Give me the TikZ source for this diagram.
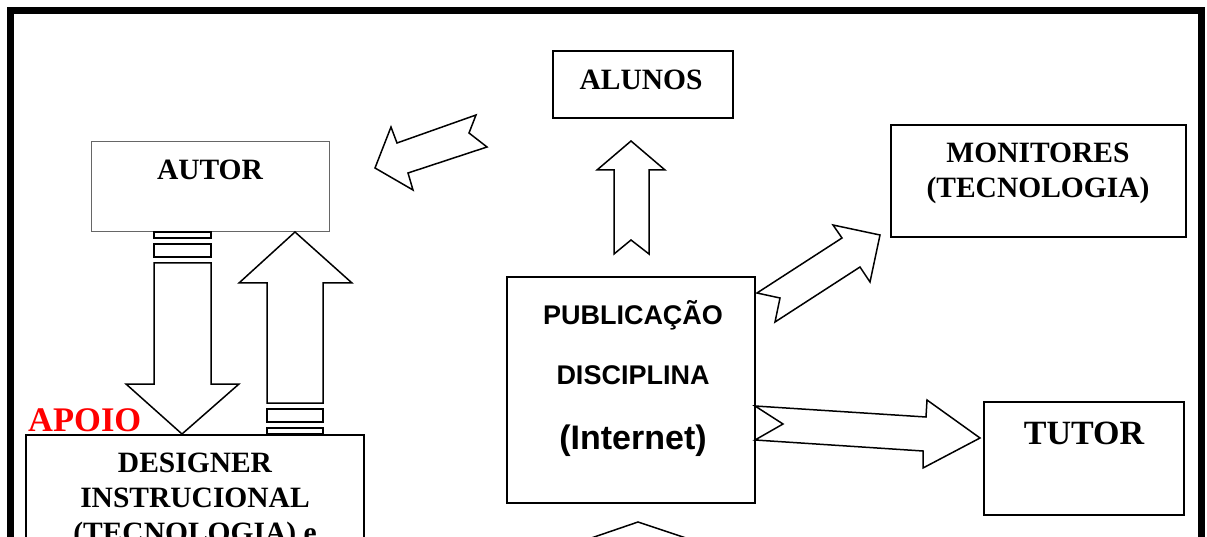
\documentclass[tikz,border=0pt]{standalone}
\usepackage{fontspec}
\setmainfont{Liberation Serif}
\newfontfamily\arialfont{Liberation Sans}
\begin{document}
\begin{tikzpicture}[x=1pt,y=-1pt,
  box/.style={draw, rectangle, line width=2pt, inner sep=0pt, outer sep=0pt},
  thinbox/.style={draw=black!60, rectangle, line width=1pt, inner sep=0pt, outer sep=0pt},
  blk/.style={draw, line width=1.5pt, fill=white, line join=miter, miter limit=20},
  lbl/.style={inner sep=0pt, anchor=base, font=\bfseries\fontsize{29.5}{35}\selectfont},
  lblbig/.style={inner sep=0pt, anchor=base, font=\bfseries\fontsize{34}{40}\selectfont},
  lblsans/.style={inner sep=0pt, anchor=base, font=\arialfont\bfseries\fontsize{27}{32}\selectfont},
  lblsansbig/.style={inner sep=0pt, anchor=base, font=\arialfont\bfseries\fontsize{34}{40}\selectfont}]
\useasboundingbox (0,0) rectangle (1207,537);
\clip (0,0) rectangle (1207,537);
\fill[white] (0,0) rectangle (1207,537);
% outer frame
\draw[line width=7pt] (10.5,10.5) rectangle (1201.5,620);

% boxes
\node[thinbox, minimum width=238pt, minimum height=90pt] (autor) at (210,187) {};
\node[box, minimum width=180pt, minimum height=67pt] (alunos) at (643,84.5) {};
\node[box, minimum width=295pt, minimum height=112pt] (monitores) at (1038.5,181) {};
\node[box, line width=2.2pt, minimum width=248pt, minimum height=226pt] (pub) at (631,390) {};
\node[box, minimum width=200pt, minimum height=113pt] (tutor) at (1084,458.5) {};
\node[box, minimum width=338pt, minimum height=200pt] (designer) at (195,535) {};

% labels
\node[lbl] (tautor) at (210,180) {AUTOR};
\node[lbl] (talunos) at (641,90) {ALUNOS};
\node[lbl] (tmon1) at (1038,162.5) {MONITORES};
\node[lbl] (tmon2) at (1038,197.5) {(TECNOLOGIA)};
\node[lblbig] (ttutor) at (1084,444.5) {TUTOR};
\node[lblsans] (tpub1) at (633,324.5) {PUBLICAÇÃO};
\node[lblsans] (tpub2) at (633,384) {DISCIPLINA};
\node[lblsansbig] (tpub3) at (633,449) {(Internet)};
\node[lblbig, anchor=base west, text=red, font=\bfseries\fontsize{34.5}{40}\selectfont] (apoio) at (28,431) {APOIO};
\node[lbl] (tdes1) at (195,472) {DESIGNER};
\node[lbl] (tdes2) at (195,507) {INSTRUCIONAL};
\node[lbl] (tdes3) at (195,542) {(TECNOLOGIA) e};

% AUTOR -> DESIGNER (down, striped tail)
\draw[blk] (154,232) rectangle (211,238);
\draw[blk] (154,244) rectangle (211,257);
\draw[blk] (154,263) -- (211,263) -- (211,384) -- (239,384) -- (182,434) -- (126,384) -- (154,384) -- cycle;

% DESIGNER -> AUTOR (up, striped tail)
\draw[blk] (267,403) -- (267,283) -- (239,283) -- (295,232) -- (352,283) -- (323,283) -- (323,403) -- cycle;
\draw[blk] (267,409) rectangle (323,422);
\draw[blk] (267,428) rectangle (323,434);

% arrow toward AUTOR
\draw[blk] (375,168) -- (391,127) -- (397,143) -- (476,115) -- (469,133) -- (487,147) -- (408,173) -- (413,190) -- cycle;

% PUB -> ALUNOS
\draw[blk] (631,141) -- (665,170) -- (649,170) -- (649,254) -- (631,240) -- (614,254) -- (614,170) -- (597,170) -- cycle;

% PUB -> MONITORES
\draw[blk] (757,293) -- (842,238) -- (833,225) -- (880,235) -- (870,282) -- (860,267) -- (775,322) -- (780,298) -- cycle;

% PUB -> TUTOR
\draw[blk] (755,406) -- (926,417) -- (927,400) -- (980,438) -- (923,468) -- (923,451) -- (755,440) -- (783,424) -- cycle;

% arrow below PUB (cut off)
\draw[blk] (527,560) -- (638,522) -- (752,560);
\end{tikzpicture}
\end{document}
